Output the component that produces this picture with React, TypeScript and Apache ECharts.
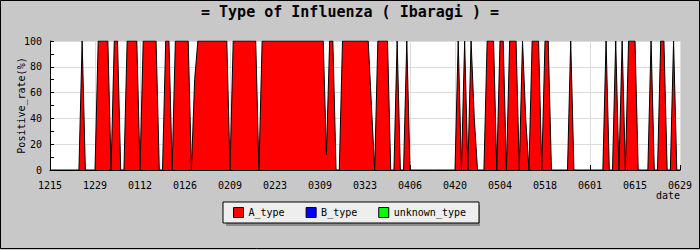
import React, { useEffect, useRef } from "react";
import * as echarts from "echarts";

// Daily categories, 15 Dec to 29 Jun (MMDD)
const categories: string[] = (() => {
  const out: string[] = [];
  const d = new Date(Date.UTC(2008, 11, 15));
  for (let i = 0; i < 197; i++) {
    const m = d.getUTCMonth() + 1;
    const dd = d.getUTCDate();
    out.push(String(m).padStart(2, "0") + String(dd).padStart(2, "0"));
    d.setUTCDate(dd + 1);
  }
  return out;
})();

const tickLabels = [
  "1215", "1229", "0112", "0126", "0209", "0223", "0309", "0323",
  "0406", "0420", "0504", "0518", "0601", "0615", "0629",
];

const seriesNames = ["A_type", "B_type", "unknown_type"];
const seriesColors = ["#FF0000", "#0000FF", "#00FF00"];

// Positive rate (%) of A type, one value per day
const aType = [
  0, 0, 0, 0, 0, 0, 0, 0, 0, 0,
  100, 0, 0, 0, 0, 100, 100, 100, 100, 0,
  100, 100, 0, 0, 100, 100, 100, 100, 0, 100,
  100, 100, 100, 100, 0, 0, 100, 100, 0, 100,
  100, 100, 100, 100, 0, 70, 100, 100, 100, 100,
  100, 100, 100, 100, 100, 100, 0, 100, 100, 100,
  100, 100, 100, 100, 100, 0, 100, 100, 100, 100,
  100, 100, 100, 100, 100, 100, 100, 100, 100, 100,
  100, 100, 100, 100, 100, 100, 12, 100, 100, 0,
  0, 100, 100, 100, 100, 100, 100, 100, 100, 100,
  50, 0, 100, 100, 100, 100, 0, 0, 100, 0,
  0, 100, 0, 0, 0, 0, 0, 0, 0, 0,
  0, 0, 0, 0, 0, 0, 0, 100, 0, 100,
  0, 100, 40, 0, 0, 0, 100, 100, 100, 0,
  100, 100, 0, 100, 100, 100, 0, 100, 40, 0,
  100, 100, 100, 0, 100, 100, 0, 0, 0, 0,
  0, 0, 100, 0, 0, 0, 0, 0, 0, 0,
  0, 0, 0, 100, 0, 0, 100, 0, 100, 0,
  100, 100, 100, 0, 0, 0, 0, 100, 0, 0,
  100, 100, 0, 0, 100, 0, 0,
];
// No B type or unknown type positives are drawn
const bType: number[] = [];
const unknownType: number[] = [];

const MONO = '"DejaVu Sans Mono", monospace';

export default function App() {
  const ref = useRef<HTMLDivElement>(null);
  useEffect(() => {
    if (!ref.current) return;
    const chart = echarts.init(ref.current, null, { renderer: "svg" });
    const showTick = (_i: number, v: string) => tickLabels.includes(v);
    chart.setOption({
      animation: false,
      backgroundColor: "#C8C8C8",
      title: {
        text: "= Type of Influenza ( Ibaragi ) =",
        left: "center",
        top: 4,
        padding: 0,
        textStyle: { fontFamily: MONO, fontSize: 15, fontWeight: "bold", color: "#000" },
      },
      legend: {
        data: seriesNames,
        left: 223,
        top: 202,
        orient: "horizontal",
        icon: "rect",
        itemWidth: 10,
        itemHeight: 10,
        itemGap: 21,
        padding: [5, 13, 5, 10],
        backgroundColor: "#EEEEEE",
        borderColor: "#000",
        borderWidth: 1,
        borderRadius: 0,
        selectedMode: false,
        itemStyle: { borderColor: "#000", borderWidth: 1 },
        textStyle: { fontFamily: MONO, fontSize: 10, color: "#000" },
      },
      grid: {
        left: 50,
        right: 20,
        top: 41,
        bottom: 80,
        show: true,
        backgroundColor: "#FFFFFF",
        borderWidth: 0,
      },
      xAxis: {
        type: "category",
        data: categories,
        boundaryGap: false,
        axisLine: { lineStyle: { color: "#000", width: 1 } },
        axisTick: { inside: true, length: 5, interval: showTick, lineStyle: { color: "#000" } },
        axisLabel: {
          interval: showTick,
          margin: 10,
          fontFamily: MONO,
          fontSize: 10,
          color: "#000",
        },
        splitLine: { show: true, interval: showTick, lineStyle: { color: "#DCDCDC", width: 1 } },
      },
      yAxis: [
        {
          type: "value",
          min: 0,
          max: 100,
          interval: 20,
          name: "Positive_rate(%)",
          nameLocation: "middle",
          nameRotate: 90,
          nameGap: 24,
          nameMoveOverlap: false,
          nameTextStyle: { fontFamily: MONO, fontSize: 10, color: "#000" },
          axisLine: { show: true, lineStyle: { color: "#000", width: 1 } },
          axisTick: { show: false },
          axisLabel: { margin: 8, fontFamily: MONO, fontSize: 10, color: "#000" },
          splitLine: { show: true, lineStyle: { color: "#DCDCDC", width: 1 } },
        },
        {
          type: "value",
          position: "left",
          min: 0,
          max: 100,
          interval: 10,
          axisLine: { show: false },
          axisTick: { show: true, inside: true, length: 4, lineStyle: { color: "#000" } },
          axisLabel: { show: false },
          splitLine: { show: false },
        },
      ],
      graphic: [
        {
          type: "rect",
          shape: { x: 226, y: 205, width: 254, height: 21 },
          style: { fill: "#8C8C8C" },
          z: 0,
        },
        {
          type: "text",
          right: 20,
          top: 190,
          style: { text: "date", font: '10px "DejaVu Sans Mono"', fill: "#000" },
        },
        {
          type: "rect",
          shape: { x: 0.5, y: 0.5, width: 699, height: 248 },
          style: { fill: "none", stroke: "#000", lineWidth: 1 },
          z: 100,
        },
      ],
      series: [
        {
          name: seriesNames[0],
          type: "line",
          data: aType,
          symbol: "none",
          itemStyle: { color: seriesColors[0] },
          lineStyle: { color: "#000", width: 1 },
          areaStyle: { color: seriesColors[0], opacity: 1 },
          z: 2,
        },
        {
          name: seriesNames[1],
          type: "line",
          data: bType,
          symbol: "none",
          itemStyle: { color: seriesColors[1] },
          lineStyle: { color: "#000", width: 1 },
        },
        {
          name: seriesNames[2],
          type: "line",
          data: unknownType,
          symbol: "none",
          itemStyle: { color: seriesColors[2] },
          lineStyle: { color: "#000", width: 1 },
        },
      ],
    });
    return () => chart.dispose();
  }, []);
  return (
    <div
      ref={ref}
      style={{ position: "fixed", left: 0, top: 0, width: 700, height: 250 }}
    />
  );
}
